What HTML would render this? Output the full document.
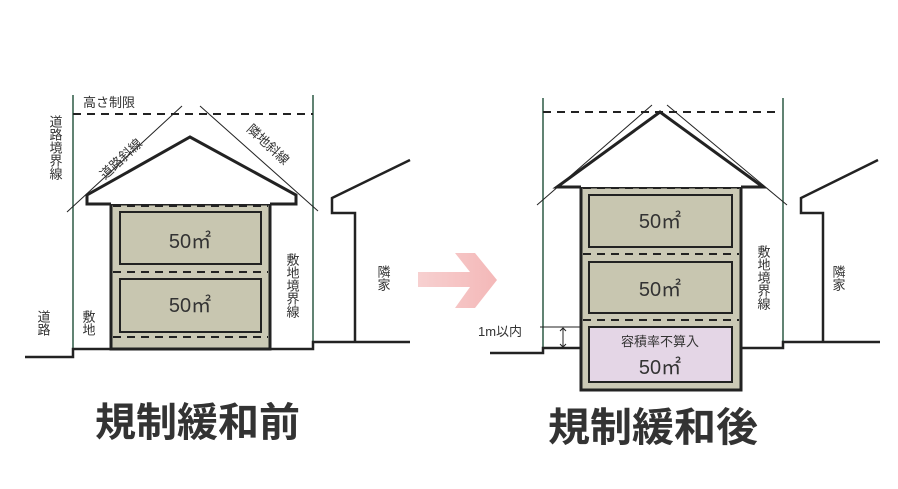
<!DOCTYPE html>
<html><head><meta charset="utf-8"><style>
body{margin:0;background:#fff;}
svg{display:block}
text{font-family:"Liberation Sans","Noto Sans CJK JP",sans-serif;fill:#333;}
.v{writing-mode:tb;glyph-orientation-vertical:0;}
</style></head><body>
<svg width="898" height="489" viewBox="0 0 898 489" xmlns="http://www.w3.org/2000/svg">
<defs>
<linearGradient id="ag" x1="0" y1="0" x2="1" y2="0"><stop offset="0" stop-color="#f7d0d0"/><stop offset="1" stop-color="#f4b8b8"/></linearGradient>
</defs>
<!-- LEFT -->
<g fill="none" stroke="#222">
<line x1="73" y1="95" x2="73" y2="349" stroke="#2d5a45" stroke-width="1.5"/>
<line x1="313" y1="95" x2="313" y2="343" stroke="#2d5a45" stroke-width="1.5"/>
<line x1="73" y1="114" x2="313" y2="114" stroke-width="2" stroke-dasharray="8,6"/>
<line x1="67" y1="212" x2="182" y2="106" stroke-width="1"/>
<line x1="200" y1="106" x2="318" y2="211" stroke-width="1"/>
<rect x="111" y="204" width="159" height="145" fill="#cbc9b5" stroke-width="3"/>
<polyline points="111,204 87,204 87,195 190,137 296,195 296,204 270,204" stroke-width="3" fill="#fff"/>
<rect x="120" y="212" width="141" height="52" fill="#c8c6b0" stroke-width="2"/>
<rect x="120" y="279" width="141" height="53" fill="#c8c6b0" stroke-width="2"/>
<line x1="113" y1="206" x2="268" y2="206" stroke-width="2" stroke-dasharray="8,6"/>
<line x1="113" y1="272" x2="268" y2="272" stroke-width="2" stroke-dasharray="8,6"/>
<line x1="113" y1="337" x2="268" y2="337" stroke-width="2" stroke-dasharray="8,6"/>
<polyline points="25,357 73,357 73,349 313,349 313,342 410,342" stroke-width="2.5"/>
<polyline points="355,342 355,213 332,213 332,198 410,160" stroke-width="2.5"/>
</g>
<text x="190" y="248" font-size="20" text-anchor="middle">50㎡</text>
<text x="190" y="312" font-size="20" text-anchor="middle">50㎡</text>
<text x="83" y="107" font-size="13">高さ制限</text>
<text x="55" y="115" font-size="13" class="v">道路境界線</text>
<text x="43" y="310" font-size="13" class="v">道路</text>
<text x="88" y="310" font-size="13" class="v">敷地</text>
<text x="292" y="253" font-size="13" class="v">敷地境界線</text>
<text x="383" y="265" font-size="13" class="v">隣家</text>
<text x="0" y="0" font-size="13" transform="translate(105,180) rotate(-43)">道路斜線</text>
<text x="0" y="0" font-size="13" transform="translate(246,130) rotate(43)">隣地斜線</text>
<!-- ARROW -->
<polygon points="418,272 470,272 455,253 475,253 497,280 475,308 455,308 470,287 418,287" fill="url(#ag)"/>
<!-- RIGHT -->
<g fill="none" stroke="#222">
<line x1="543" y1="98" x2="543" y2="348" stroke="#2d5a45" stroke-width="1.5"/>
<line x1="783" y1="98" x2="783" y2="342" stroke="#2d5a45" stroke-width="1.5"/>
<line x1="543" y1="112" x2="775" y2="112" stroke-width="2" stroke-dasharray="8,6"/>
<line x1="537" y1="205" x2="652" y2="105" stroke-width="1"/>
<line x1="667" y1="105" x2="787" y2="205" stroke-width="1"/>
<rect x="581" y="187" width="160" height="203" fill="#cbc9b5" stroke-width="3"/>
<polyline points="581,187 557,187 660,112 763,187 741,187" stroke-width="3" fill="#fff"/>
<rect x="589" y="195" width="143" height="52" fill="#c8c6b0" stroke-width="2"/>
<rect x="589" y="262" width="143" height="51" fill="#c8c6b0" stroke-width="2"/>
<rect x="589" y="327" width="143" height="55" fill="#e4d6e6" stroke-width="2"/>
<line x1="583" y1="188" x2="739" y2="188" stroke-width="2" stroke-dasharray="8,6"/>
<line x1="583" y1="254" x2="739" y2="254" stroke-width="2" stroke-dasharray="8,6"/>
<line x1="583" y1="320" x2="739" y2="320" stroke-width="2" stroke-dasharray="8,6"/>
<polyline points="490,353 543,353 543,348 581,348" stroke-width="2.5"/>
<polyline points="741,348 783,348 783,342 880,342" stroke-width="2.5"/>
<polyline points="823,342 823,213 801,213 801,198 878,160" stroke-width="2.5"/>
<line x1="540" y1="327" x2="581" y2="327" stroke-width="1"/>
<line x1="563" y1="328" x2="563" y2="347" stroke-width="1"/>
<polyline points="560,331 563,328 566,331" stroke-width="1"/>
<polyline points="560,344 563,347 566,344" stroke-width="1"/>
</g>
<text x="660" y="228" font-size="20" text-anchor="middle">50㎡</text>
<text x="660" y="296" font-size="20" text-anchor="middle">50㎡</text>
<text x="660" y="346" font-size="13" text-anchor="middle">容積率不算入</text>
<text x="660" y="374" font-size="20" text-anchor="middle">50㎡</text>
<text x="478" y="336" font-size="13">1m以内</text>
<text x="763" y="245" font-size="13" class="v">敷地境界線</text>
<text x="838" y="265" font-size="13" class="v">隣家</text>
<!-- TITLES -->
<text x="95" y="436" font-size="40" font-weight="bold" fill="#333" textLength="205" lengthAdjust="spacingAndGlyphs">規制緩和前</text>
<text x="548" y="441" font-size="40" font-weight="bold" fill="#333" textLength="210" lengthAdjust="spacingAndGlyphs">規制緩和後</text>
</svg>
</body></html>
